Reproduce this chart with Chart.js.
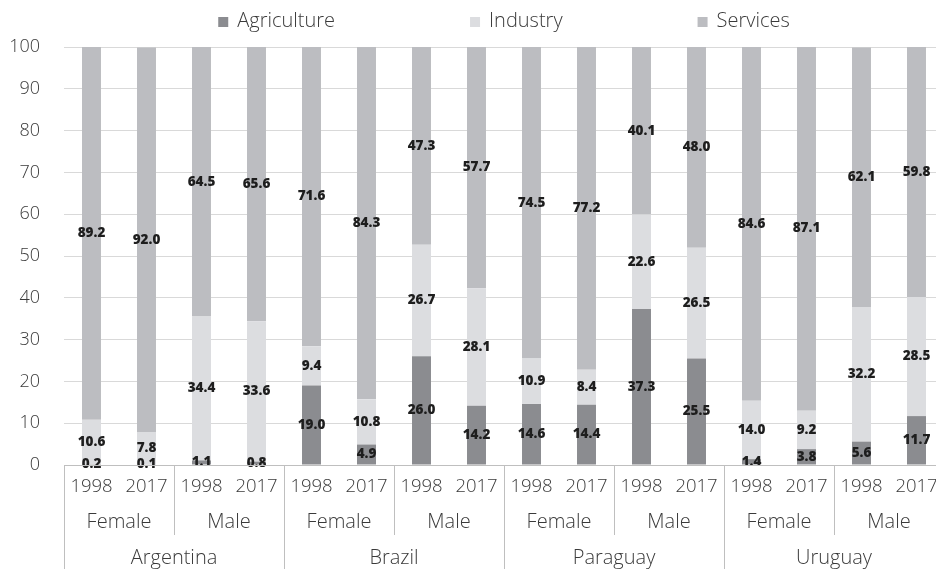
<!DOCTYPE html>
<html>
<head>
<meta charset="utf-8">
<script src="https://cdn.jsdelivr.net/npm/chart.js@4/dist/chart.umd.min.js"></script>
<style>
  html, body { margin: 0; padding: 0; background: #fff; overflow: hidden; width: 936px; height: 569px; }
  #wrap { position: relative; width: 960px; height: 569px; }
</style>
</head>
<body>
<div id="wrap"><canvas id="c" width="960" height="569"></canvas></div>
<script>
const countries = ["Argentina", "Brazil", "Paraguay", "Uruguay"];
const genders = ["Female", "Male"];
const years = ["1998", "2017"];

// category order: country > gender > year
const categories = [];
countries.forEach(c => genders.forEach(g => years.forEach(y => categories.push(c + " " + g + " " + y))));

const agriculture = [0.2, 0.1, 1.1, 0.8, 19.0, 4.9, 26.0, 14.2, 14.6, 14.4, 37.3, 25.5, 1.4, 3.8, 5.6, 11.7];
const industry    = [10.6, 7.8, 34.4, 33.6, 9.4, 10.8, 26.7, 28.1, 10.9, 8.4, 22.6, 26.5, 14.0, 9.2, 32.2, 28.5];
const services    = [89.2, 92.0, 64.5, 65.6, 71.6, 84.3, 47.3, 57.7, 74.5, 77.2, 40.1, 48.0, 84.6, 87.1, 62.1, 59.8];

const yTicks = [0, 10, 20, 30, 40, 50, 60, 70, 80, 90, 100];

const FONT = "'Open Sans'";
const TEXT = "#3a3a3a";
const LINE = "#bfbfbf";

const colors = { Agriculture: "#8b8c90", Industry: "#dcdde0", Services: "#bcbdc1" };

const legendPlugin = {
  id: "topLegend",
  afterDraw(chart) {
    const ctx = chart.ctx;
    const ca = chart.chartArea;
    const items = chart.data.datasets.map(d => ({ label: d.label, color: d.backgroundColor }));
    ctx.save();
    ctx.font = "300 20px " + FONT;
    const box = 10, gapBox = 9, gap = 135;
    const widths = items.map(it => box + gapBox + ctx.measureText(it.label).width);
    const total = widths.reduce((a, b) => a + b, 0) + gap * (items.length - 1);
    let x = (ca.left + ca.right) / 2 - total / 2;
    const cy = 21;
    items.forEach((it, i) => {
      ctx.fillStyle = it.color;
      ctx.fillRect(x, cy - box / 2 + 1, box, box);
      ctx.fillStyle = TEXT;
      ctx.textBaseline = "middle";
      ctx.textAlign = "left";
      ctx.fillText(it.label, x + box + gapBox, cy);
      x += widths[i] + gap;
    });
    ctx.restore();
  }
};

const valueLabels = {
  id: "valueLabels",
  afterDatasetsDraw(chart) {
    const ctx = chart.ctx;
    ctx.save();
    ctx.font = "800 13.5px " + FONT;
    ctx.fillStyle = "#1e1e1e";
    ctx.textAlign = "center";
    ctx.textBaseline = "middle";
    chart.data.datasets.forEach((ds, di) => {
      const meta = chart.getDatasetMeta(di);
      meta.data.forEach((el, i) => {
        const v = ds.data[i];
        const y = (el.y + el.base) / 2;
        ctx.fillText(v.toFixed(1), el.x, y);
      });
    });
    ctx.restore();
  }
};

const categoryAxis = {
  id: "categoryAxis",
  afterDraw(chart) {
    const ctx = chart.ctx;
    const xs = chart.scales.x;
    const ca = chart.chartArea;
    const H = chart.height;
    const n = categories.length;
    const px = i => xs.getPixelForValue(i);
    const step = n > 1 ? px(1) - px(0) : 0;
    const edge = i => px(i) - step / 2;
    ctx.save();
    ctx.strokeStyle = LINE;
    ctx.lineWidth = 1;
    ctx.beginPath();
    ctx.moveTo(ca.left, Math.round(ca.bottom) + 0.5);
    ctx.lineTo(ca.right, Math.round(ca.bottom) + 0.5);
    ctx.stroke();
    const perCountry = genders.length * years.length;
    for (let i = 0; i <= n; i += years.length) {
      const x = Math.round(edge(i)) + 0.5;
      const full = (i % perCountry === 0);
      ctx.beginPath();
      ctx.moveTo(x, ca.bottom);
      ctx.lineTo(x, full ? H : ca.bottom + 70);
      ctx.stroke();
    }
    ctx.fillStyle = TEXT;
    ctx.textAlign = "center";
    ctx.textBaseline = "middle";
    ctx.font = "300 18.5px " + FONT;
    categories.forEach((c, i) => {
      ctx.fillText(years[i % years.length], px(i), ca.bottom + 22);
    });
    ctx.font = "300 20px " + FONT;
    for (let i = 0; i < n; i += years.length) {
      const g = genders[(i / years.length) % genders.length];
      ctx.fillText(g, (edge(i) + edge(i + years.length)) / 2, ca.bottom + 57);
    }
    for (let i = 0; i < n; i += perCountry) {
      const c = countries[i / perCountry];
      ctx.fillText(c, (edge(i) + edge(i + perCountry)) / 2, ca.bottom + 93);
    }
    ctx.restore();
  }
};

new Chart(document.getElementById("c"), {
  type: "bar",
  data: {
    labels: categories,
    datasets: [
      { label: "Agriculture", data: agriculture, backgroundColor: colors.Agriculture },
      { label: "Industry", data: industry, backgroundColor: colors.Industry },
      { label: "Services", data: services, backgroundColor: colors.Services }
    ]
  },
  options: {
    responsive: false,
    animation: false,
    devicePixelRatio: 1,
    layout: { padding: { top: 47, bottom: 104, left: 0, right: 16 } },
    datasets: { bar: { categoryPercentage: 1.0, barPercentage: 0.345 } },
    plugins: { legend: { display: false }, tooltip: { enabled: false } },
    scales: {
      x: { stacked: true, display: false },
      y: {
        stacked: true,
        min: 0, max: 100,
        afterFit(scale) { scale.width = 64; },
        afterBuildTicks(scale) { scale.ticks = yTicks.map(v => ({ value: v })); },
        border: { display: false },
        grid: {
          drawTicks: false,
          color: ctx => ctx.tick && ctx.tick.value === 0 ? "rgba(0,0,0,0)" : "#d9d9d9",
          lineWidth: 1
        },
        ticks: { padding: 24, color: TEXT, font: { family: "Open Sans", size: 18, weight: 300 } }
      }
    }
  },
  plugins: [legendPlugin, valueLabels, categoryAxis]
});
</script>
</body>
</html>
